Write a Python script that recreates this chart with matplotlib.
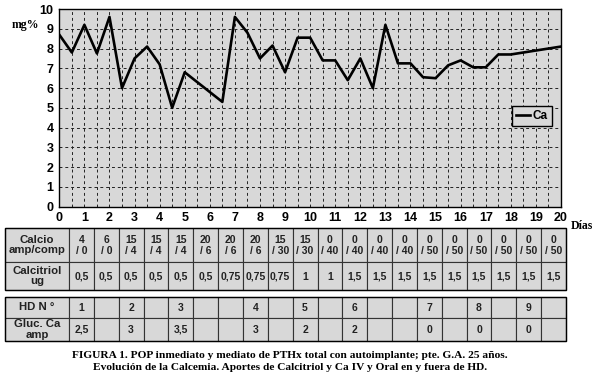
import matplotlib.pyplot as plt
from matplotlib.patches import Rectangle

# calcemia (mg%) por dia
dias = [0, 0.5, 1, 1.5, 2, 2.5, 3, 3.5, 4, 4.5, 5, 5.5, 6, 6.5, 7, 7.5, 8, 8.5, 9, 9.5,
        10, 10.5, 11, 11.5, 12, 12.5, 13, 13.5, 14, 14.5, 15, 15.5, 16, 16.5, 17, 17.5,
        18, 19, 20]
ca = [8.7, 7.8, 9.2, 7.75, 9.6, 6.0, 7.5, 8.1, 7.2, 5.0, 6.8, 6.3, 5.8, 5.3, 9.6, 8.8,
      7.5, 8.15, 6.8, 8.55, 8.55, 7.4, 7.4, 6.4, 7.5, 6.0, 9.2, 7.25, 7.25, 6.55, 6.5,
      7.15, 7.4, 7.05, 7.05, 7.7, 7.7, 7.9, 8.1]

# tablas
calcio = ["4\n/ 0", "6\n/ 0", "15\n/ 4", "15\n/ 4", "15\n/ 4", "20\n/ 6", "20\n/ 6",
          "20\n/ 6", "15\n/ 30", "15\n/ 30", "0\n/ 40", "0\n/ 40", "0\n/ 40", "0\n/ 40",
          "0\n/ 50", "0\n/ 50", "0\n/ 50", "0\n/ 50", "0\n/ 50", "0\n/ 50"]
calcitriol = ["0,5", "0,5", "0,5", "0,5", "0,5", "0,5", "0,75", "0,75", "0,75", "1",
              "1", "1,5", "1,5", "1,5", "1,5", "1,5", "1,5", "1,5", "1,5", "1,5"]
hd_n = ["1", "", "2", "", "3", "", "", "4", "", "5", "", "6", "", "", "7", "", "8", "",
        "9", ""]
gluc_ca = ["2,5", "", "3", "", "3,5", "", "", "3", "", "2", "", "2", "", "", "0", "",
           "0", "", "0", ""]

bg = "#d8d8d8"
fig = plt.figure(figsize=(6, 3.75), dpi=100)
fig.patch.set_facecolor("white")

ax = fig.add_axes([59.3 / 600, 1 - 206.7 / 375, (561 - 59.3) / 600, (206.7 - 9) / 375])
ax.set_facecolor(bg)
ax.plot(dias, ca, color="black", lw=1.9, label="Ca")
ax.set_xlim(0, 20)
ax.set_ylim(0, 10)
ax.set_xticks(range(0, 21))
ax.set_yticks(range(0, 11))
ax.set_xticks([i + 0.5 for i in range(20)], minor=True)
ax.grid(True, which="both", color="#222222", ls=(0, (3, 3)), lw=0.7)
ax.tick_params(which="both", length=0)
ax.tick_params(axis="x", pad=4)
ax.tick_params(axis="y", pad=4)
for lab in ax.get_xticklabels() + ax.get_yticklabels():
    lab.set_fontfamily("Liberation Sans")
    lab.set_fontweight("bold")
    lab.set_fontsize(9)
for s in ax.spines.values():
    s.set_color("black")
    s.set_linewidth(1)
leg = ax.legend(loc="upper left", bbox_to_anchor=((512 - 59.3) / 501.7, 1 - (106 - 9) / 197.7),
                frameon=True, fancybox=False, handlelength=1.2, handletextpad=0.2,
                borderpad=0.35, borderaxespad=0, prop={"family": "Liberation Sans",
                                                      "weight": "bold", "size": 8.5})
leg.get_frame().set_edgecolor("black")
leg.get_frame().set_facecolor(bg)
leg.get_frame().set_alpha(1)
leg.get_frame().set_linewidth(1)

# capa de pixeles para textos y tablas
ov = fig.add_axes([0, 0, 1, 1])
ov.set_xlim(0, 600)
ov.set_ylim(375, 0)
ov.axis("off")
ov.patch.set_alpha(0)

ov.text(12, 25, "mg%", fontfamily="Liberation Serif", fontweight="bold", fontsize=8.5,
        va="center", ha="left")
ov.text(571, 226, "Días", fontfamily="Liberation Serif", fontweight="bold", fontsize=8.5,
        va="center", ha="left")

x0, xl, x1 = 5, 69, 566
cw = (x1 - xl) / 20


def draw_table(rows, y_edges):
    for r, (label, vals) in enumerate(rows):
        ya, yb = y_edges[r], y_edges[r + 1]
        ov.add_patch(Rectangle((x0, ya), xl - x0, yb - ya, facecolor=bg,
                               edgecolor="#333333", lw=0.8))
        ov.text((x0 + xl) / 2, (ya + yb) / 2, label, ha="center", va="center",
                fontfamily="Liberation Sans", fontweight="bold", fontsize=8.2,
                color="#222222", linespacing=1.05)
        for i, v in enumerate(vals):
            xa = xl + i * cw
            ov.add_patch(Rectangle((xa, ya), cw, yb - ya, facecolor=bg,
                                   edgecolor="#333333", lw=0.8))
            ov.text(xa + cw / 2, (ya + yb) / 2 + 0.5, v, ha="center", va="center",
                    fontfamily="Liberation Sans", fontweight="bold", fontsize=7.5,
                    color="#222222", linespacing=1.1)
    ov.add_patch(Rectangle((x0, y_edges[0]), x1 - x0, y_edges[-1] - y_edges[0],
                           facecolor="none", edgecolor="black", lw=1))


draw_table([("Calcio\namp/comp", calcio), ("Calcitriol\nug", calcitriol)], [228, 262, 290])
draw_table([("HD N °", hd_n), ("Gluc. Ca\namp", gluc_ca)], [297, 318, 341])

ov.text(290, 355, "FIGURA 1. POP inmediato y mediato de PTHx total con autoimplante; pte. G.A. 25 años.",
        ha="center", va="center", fontfamily="Liberation Serif", fontweight="bold", fontsize=8.2)
ov.text(290, 368, "Evolución de la Calcemia. Aportes de Calcitriol y Ca IV y Oral en y fuera de HD.",
        ha="center", va="center", fontfamily="Liberation Serif", fontweight="bold", fontsize=8.2)

fig.savefig("out.png", dpi=100)
